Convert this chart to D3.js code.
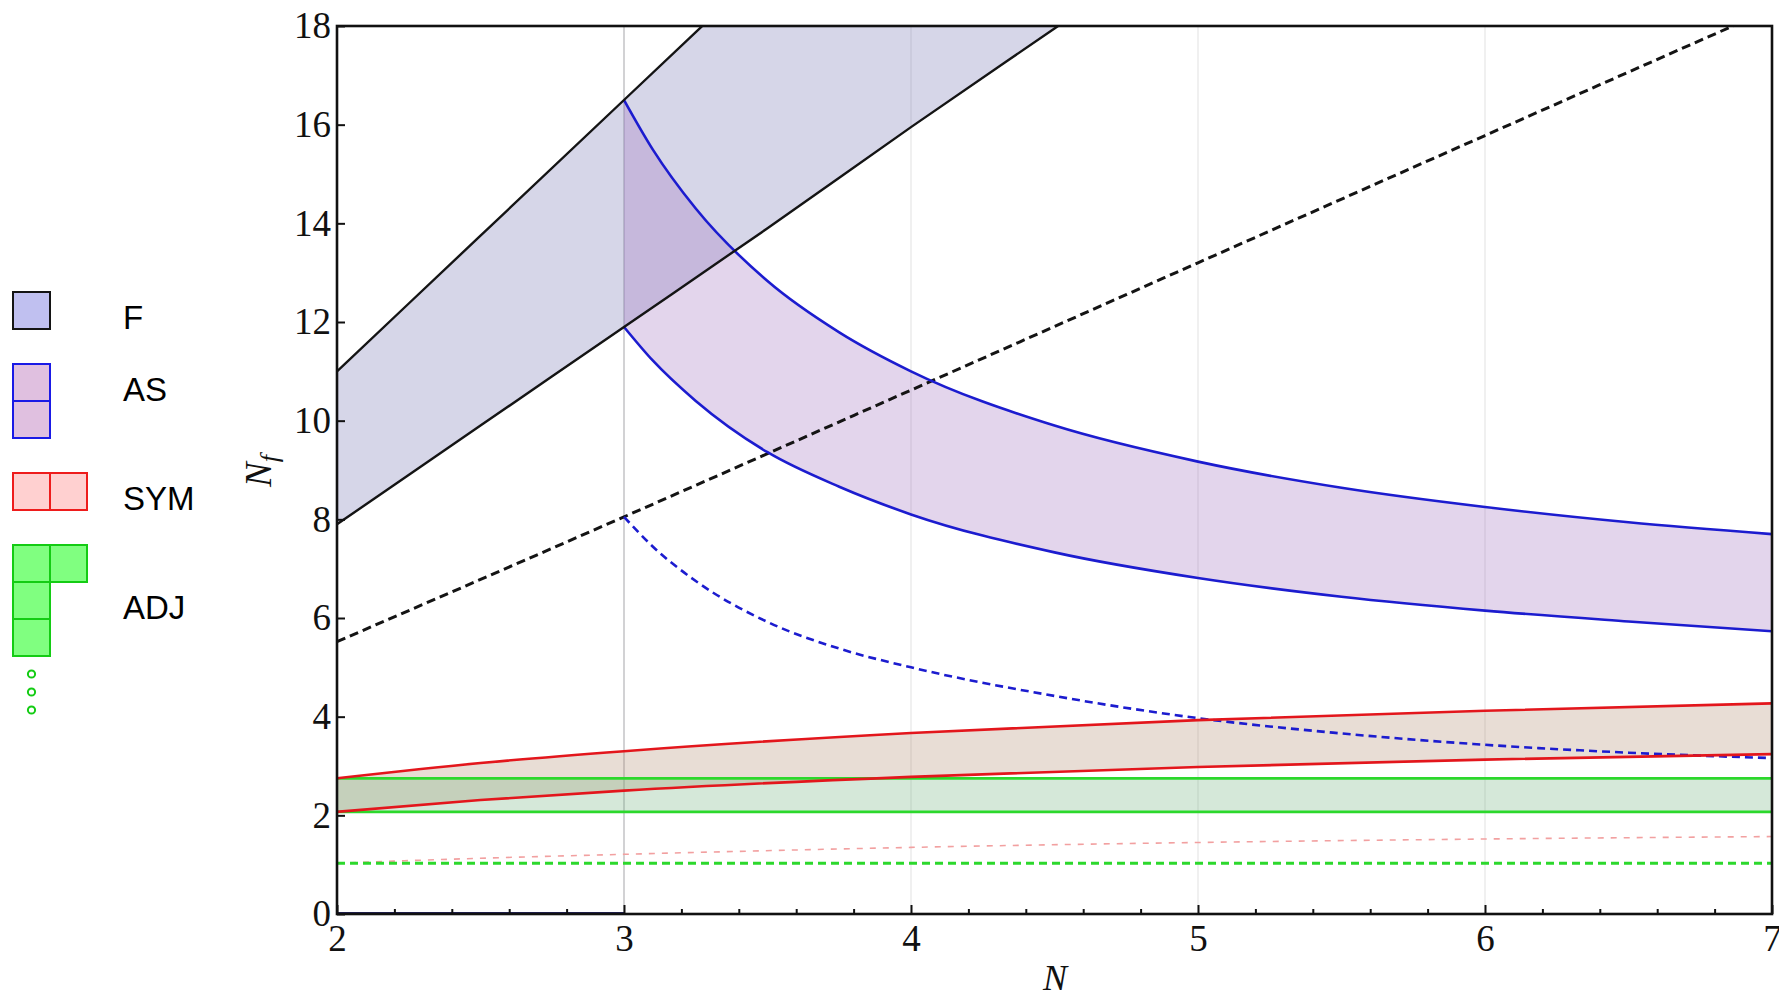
<!DOCTYPE html>
<html>
<head>
<meta charset="utf-8">
<script src="https://cdn.jsdelivr.net/npm/d3@7"></script>
<style>
  body { margin: 0; background: #fff; }
  .tick text { font-family: "Liberation Serif", "Times New Roman", serif; font-size: 37px; fill: #111; }
  .tick line { stroke: #111; stroke-width: 2; }
  .legend text { font-family: "Liberation Sans", Arial, sans-serif; font-size: 33px; fill: #000; }
  .title { font-family: "Liberation Serif", "Times New Roman", serif; font-style: italic; fill: #111; }
</style>
</head>
<body>
<svg id="chart" width="1779" height="1000"></svg>
<script>
// ---- data ----
// fundamental (F)
var fN     = [2, 2.5, 3, 3.5, 4, 4.5, 5];
var fHigh  = [11, 13.75, 16.5, 19.25, 22, 24.75, 27.5];
var fLow   = [7.9, 9.9, 11.9, 13.9, 15.95, 17.95, 19.95];
var gN     = [2, 3, 4, 5, 6, 7];
var fGamma = [5.52, 8.05, 10.62, 13.2, 15.78, 18.35];

// two-index antisymmetric (AS)
var asN     = [3, 3.1, 3.25, 3.5, 3.75, 4, 4.5, 5, 5.5, 6, 6.5, 7];
var asHigh  = [16.5, 15.5, 14.3, 12.83, 11.79, 11.0, 9.9, 9.17, 8.64, 8.25, 7.94, 7.7];
var asLow   = [11.9, 11.22, 10.4, 9.36, 8.66, 8.1, 7.33, 6.81, 6.43, 6.15, 5.93, 5.73];
var asGamma = [8.05, 7.45, 6.75, 5.92, 5.38, 5.0, 4.42, 3.97, 3.66, 3.43, 3.27, 3.16];
var asZeroN = [2, 3];
var asZero  = [0, 0];

// two-index symmetric (SYM)
var symN     = [2, 2.5, 3, 4, 5, 6, 7];
var symHigh  = [2.75, 3.06, 3.3, 3.67, 3.93, 4.12, 4.27];
var symLow   = [2.07, 2.31, 2.5, 2.78, 2.98, 3.13, 3.24];
var symGamma = [1.03, 1.13, 1.21, 1.35, 1.45, 1.52, 1.57];

// adjoint (ADJ)
var adjN     = [2, 7];
var adjHigh  = [2.75, 2.75];
var adjLow   = [2.07, 2.07];
var adjGamma = [1.03, 1.03];

var xTicks = [2, 3, 4, 5, 6, 7];
var yTicks = [0, 2, 4, 6, 8, 10, 12, 14, 16, 18];
var gridN  = [3, 4, 5, 6];

var legendNames = ["F", "AS", "SYM", "ADJ"];
var legendRows  = [[1], [1, 1], [2], [2, 1, 1]];

// ---- styles ----
var col = {
  black: "#141414", blue: "#1c1ccf", red: "#e3161c", green: "#2cd82c", pink: "#f2a0a0", navy: "#23235e",
  fFill: "rgb(118,118,178)", asFill: "rgb(162,115,192)", symFill: "rgb(178,142,115)", adjFill: "rgb(115,178,128)"
};
var legendFill   = ["#c0c0f0", "#e0c0e0", "#ffd0d0", "#80ff80"];
var legendStroke = ["#141414", "#1a1ae6", "#ee1c1c", "#14cc14"];

var svg = d3.select("#chart");
var x = d3.scaleLinear().domain([2, 7]).range([337, 1772]);
var y = d3.scaleLinear().domain([0, 18]).range([914, 26]);

svg.append("defs").append("clipPath").attr("id", "plotclip")
  .append("rect")
  .attr("x", x(2)).attr("y", y(18))
  .attr("width", x(7) - x(2)).attr("height", y(0) - y(18));

var plot = svg.append("g").attr("clip-path", "url(#plotclip)");

// grid lines
plot.selectAll(".grid")
  .data(gridN)
  .enter().append("line")
  .attr("class", "grid")
  .attr("x1", d => x(d)).attr("x2", d => x(d))
  .attr("y1", y(0)).attr("y2", y(18))
  .attr("stroke", d => d == 3 ? "#b4b4b8" : "#e6e6e6")
  .attr("stroke-width", 1.2);

function zip(ns, vs) { return ns.map((n, i) => [n, vs[i]]); }

function band(ns, lo, hi, fill) {
  var area = d3.area()
    .x(d => x(d[0]))
    .y0(d => y(d[1]))
    .y1(d => y(d[2]))
    .curve(d3.curveMonotoneX);
  plot.append("path")
    .datum(ns.map((n, i) => [n, lo[i], hi[i]]))
    .attr("d", area)
    .attr("fill", fill)
    .attr("fill-opacity", 0.3);
}

var line = d3.line().x(d => x(d[0])).y(d => y(d[1])).curve(d3.curveMonotoneX);

function curve(ns, vs, color, width, dash) {
  plot.append("path")
    .datum(zip(ns, vs))
    .attr("d", line)
    .attr("fill", "none")
    .attr("stroke", color)
    .attr("stroke-width", width)
    .attr("stroke-dasharray", dash || null);
}

// filled windows
band(fN, fLow, fHigh, col.fFill);
band(asN, asLow, asHigh, col.asFill);
band(symN, symLow, symHigh, col.symFill);
band(adjN, adjLow, adjHigh, col.adjFill);

// dashed bounds
curve(symN, symGamma, col.pink, 1.6, "6,7");
curve(adjN, adjGamma, col.green, 3, "8,5");
curve(gN, fGamma, col.black, 3, "9,5");
curve(asN, asGamma, col.blue, 2.6, "8,5");

// solid bounds
curve(adjN, adjHigh, col.green, 2.6);
curve(adjN, adjLow, col.green, 2.6);
curve(symN, symHigh, col.red, 2.6);
curve(symN, symLow, col.red, 2.6);
curve(asN, asHigh, col.blue, 2.6);
curve(asN, asLow, col.blue, 2.6);
curve(fN, fHigh, col.black, 2.4);
curve(fN, fLow, col.black, 2.4);
curve(asZeroN, asZero, col.navy, 4);

// axes
var xMinor = d3.range(2, 7.001, 0.2).filter(d => Math.abs(d - Math.round(d)) > 1e-6);

var xAxis = svg.append("g")
  .attr("transform", "translate(0," + y(0) + ")")
  .call(d3.axisBottom(x).tickValues(xTicks).tickSizeInner(-9).tickSizeOuter(0).tickPadding(11).tickFormat(d3.format("d")));
xAxis.select(".domain").remove();

var xAxisMinor = svg.append("g")
  .attr("transform", "translate(0," + y(0) + ")")
  .call(d3.axisBottom(x).tickValues(xMinor).tickSizeInner(-5).tickSizeOuter(0).tickFormat(""));
xAxisMinor.select(".domain").remove();

var yAxis = svg.append("g")
  .attr("transform", "translate(" + x(2) + ",0)")
  .call(d3.axisLeft(y).tickValues(yTicks).tickSizeInner(-8).tickSizeOuter(0).tickPadding(6).tickFormat(d3.format("d")));
yAxis.select(".domain").remove();

// frame
svg.append("rect")
  .attr("x", x(2)).attr("y", y(18))
  .attr("width", x(7) - x(2)).attr("height", y(0) - y(18))
  .attr("fill", "none")
  .attr("stroke", "#111")
  .attr("stroke-width", 2.6);

// axis titles
svg.append("text")
  .attr("class", "title")
  .attr("x", 1055).attr("y", 990)
  .attr("text-anchor", "middle")
  .attr("font-size", 36)
  .text("N");

var yt = svg.append("text")
  .attr("class", "title")
  .attr("transform", "translate(271,471) rotate(-90)")
  .attr("text-anchor", "middle")
  .attr("font-size", 37);
yt.append("tspan").text("N");
yt.append("tspan").attr("dy", "0.28em").attr("font-size", 26).text("f");

// legend: Young tableaux
var cell = 37, lx = 13, lgap = 35;
var legend = svg.append("g").attr("class", "legend");
var top0 = 292;
legendNames.forEach(function(name, i) {
  var rows = legendRows[i];
  var g = legend.append("g");
  rows.forEach(function(len, r) {
    for (var c = 0; c < len; c++) {
      g.append("rect")
        .attr("x", lx + c * cell).attr("y", top0 + r * cell)
        .attr("width", cell).attr("height", cell)
        .attr("fill", legendFill[i])
        .attr("stroke", legendStroke[i])
        .attr("stroke-width", 2);
    }
  });
  g.append("text")
    .attr("x", 123)
    .attr("y", top0 + cell * Math.max(1, rows.length - 1))
    .text(name);
  if (i == legendNames.length - 1) {
    var bottom = top0 + rows.length * cell;
    [0, 1, 2].forEach(function(k) {
      legend.append("circle")
        .attr("cx", lx + cell / 2).attr("cy", bottom + 18 + k * 18)
        .attr("r", 3.6)
        .attr("fill", "#fff")
        .attr("stroke", legendStroke[i])
        .attr("stroke-width", 2);
    });
  }
  top0 += rows.length * cell + lgap;
});
</script>
</body>
</html>
